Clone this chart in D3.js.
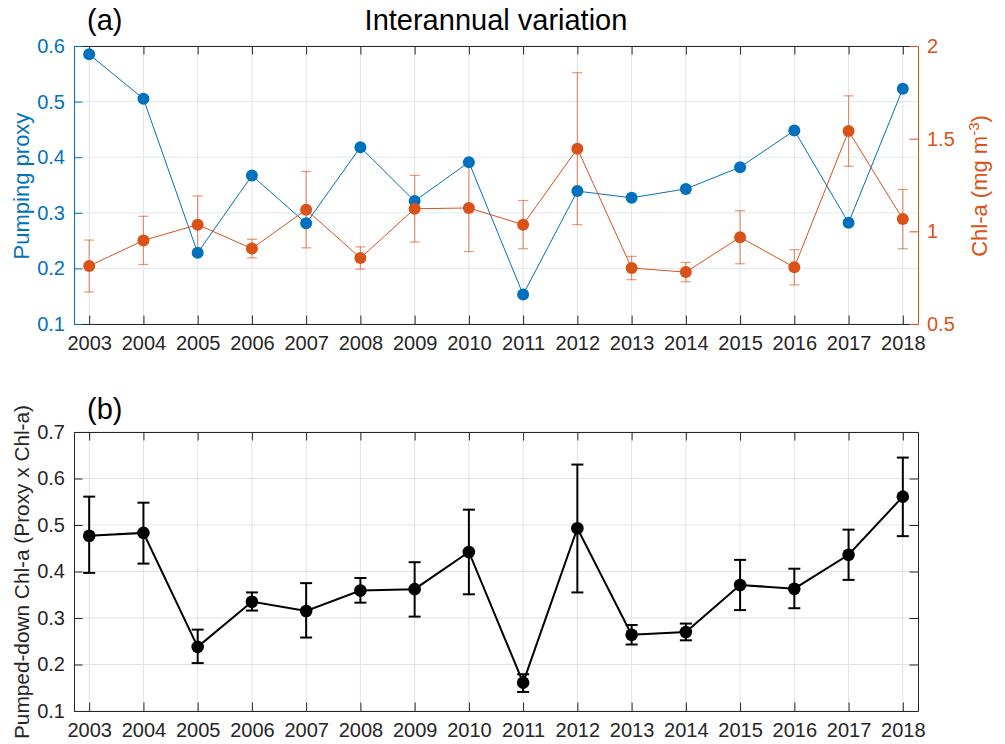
<!DOCTYPE html>
<html>
<head>
<meta charset="utf-8">
<script src="https://cdn.jsdelivr.net/npm/d3@7"></script>
<style>
  body { margin: 0; background: #fff; }
  svg { font-family: "Liberation Sans", Arial, Helvetica, sans-serif; }
</style>
</head>
<body>
<div id="vizDiv"></div>
<script>
var width = 1005
var height = 744

// data
var years = [2003, 2004, 2005, 2006, 2007, 2008, 2009, 2010, 2011, 2012, 2013, 2014, 2015, 2016, 2017, 2018]
var proxy = [0.585, 0.505, 0.228, 0.367, 0.281, 0.418, 0.321, 0.391, 0.153, 0.339, 0.327, 0.343, 0.382, 0.448, 0.282, 0.523]
var chl = [0.813, 0.951, 1.036, 0.907, 1.117, 0.856, 1.122, 1.126, 1.036, 1.446, 0.802, 0.780, 0.968, 0.806, 1.541, 1.066]
var chlErr = [0.14, 0.13, 0.155, 0.05, 0.206, 0.06, 0.18, 0.235, 0.13, 0.41, 0.063, 0.052, 0.143, 0.095, 0.19, 0.16]
var pumped = [0.477, 0.483, 0.238, 0.335, 0.315, 0.359, 0.362, 0.442, 0.161, 0.493, 0.264, 0.270, 0.371, 0.363, 0.436, 0.561]
var pumpedLo = [0.397, 0.417, 0.203, 0.316, 0.258, 0.333, 0.303, 0.351, 0.141, 0.355, 0.243, 0.252, 0.317, 0.321, 0.382, 0.476]
var pumpedHi = [0.561, 0.548, 0.275, 0.355, 0.375, 0.386, 0.420, 0.533, 0.179, 0.630, 0.285, 0.288, 0.425, 0.406, 0.490, 0.645]

var leftTicks = [0.1, 0.2, 0.3, 0.4, 0.5, 0.6]
var rightTicks = [0.5, 1, 1.5, 2]
var bottomTicks = [0.1, 0.2, 0.3, 0.4, 0.5, 0.6, 0.7]

var blue = "#0072BD"
var orange = "#D95319"
var dark = "#262626"
var tickFont = "20px"
var labelFont = "22px"
var titleFont = "29px"
var tickLen = 8.5

var svg = d3.select("#vizDiv")
    .append("svg")
    .attr("width", width)
    .attr("height", height)

var x = d3.scaleLinear().domain([2002.72, 2018.28]).range([74, 918])

// panel a
var topA = 46, botA = 324
var yL = d3.scaleLinear().domain([0.1, 0.6]).range([botA, topA])
var yR = d3.scaleLinear().domain([0.5, 2]).range([botA, topA])

// panel b
var topB = 432, botB = 711
var yB = d3.scaleLinear().domain([0.1, 0.7]).range([botB, topB])

function drawGrid(yScale, ticks, top, bot, hColor) {
    svg.append("g").selectAll("line.v")
        .data(years).enter().append("line")
        .attr("x1", d => x(d)).attr("x2", d => x(d))
        .attr("y1", top).attr("y2", bot)
        .attr("stroke", "#e3e3e3").attr("stroke-width", 1)
    svg.append("g").selectAll("line.h")
        .data(ticks).enter().append("line")
        .attr("x1", 74).attr("x2", 918)
        .attr("y1", d => yScale(d)).attr("y2", d => yScale(d))
        .attr("stroke", hColor).attr("stroke-width", 1)
}

function styleAxis(g, color, labelColor) {
    g.selectAll(".domain").attr("stroke", color).attr("stroke-width", 1)
    g.selectAll(".tick line").attr("stroke", color).attr("stroke-width", 1)
    g.selectAll(".tick text")
        .attr("fill", labelColor)
        .style("font-size", tickFont)
        .style("font-family", "'Liberation Sans', Arial, sans-serif")
}

function drawXAxes(top, bot) {
    var gb = svg.append("g").attr("transform", "translate(0," + bot + ")")
        .call(d3.axisBottom(x).tickValues(years).tickFormat(d3.format("d"))
            .tickSizeInner(-tickLen).tickSizeOuter(0).tickPadding(8))
    styleAxis(gb, dark, dark)
    gb.selectAll(".tick text").attr("y", 26).attr("dy", 0)
    var gt = svg.append("g").attr("transform", "translate(0," + top + ")")
        .call(d3.axisTop(x).tickValues(years).tickFormat("")
            .tickSizeInner(-tickLen).tickSizeOuter(0))
    styleAxis(gt, dark, dark)
}

// ---------- panel (a) ----------
drawGrid(yL, leftTicks, topA, botA, "#e0eaf3")
drawXAxes(topA, botA)

var gl = svg.append("g").attr("transform", "translate(74,0)")
    .call(d3.axisLeft(yL).tickValues(leftTicks).tickFormat(d3.format(".1f"))
        .tickSizeInner(-tickLen).tickSizeOuter(0).tickPadding(9))
styleAxis(gl, blue, blue)

var gr = svg.append("g").attr("transform", "translate(918,0)")
    .call(d3.axisRight(yR).tickValues(rightTicks).tickFormat(d => String(d))
        .tickSizeInner(-tickLen).tickSizeOuter(0).tickPadding(9))
styleAxis(gr, orange, orange)

// chl error bars (drawn faint, underneath)
var eb = svg.append("g").attr("stroke", orange).attr("stroke-opacity", 0.6).attr("stroke-width", 1.2)
years.forEach(function (yr, i) {
    var cx = x(yr)
    var y1 = yR(chl[i] + chlErr[i]), y2 = yR(chl[i] - chlErr[i])
    eb.append("line").attr("x1", cx).attr("x2", cx).attr("y1", y1).attr("y2", y2)
    eb.append("line").attr("x1", cx - 5).attr("x2", cx + 5).attr("y1", y1).attr("y2", y1)
    eb.append("line").attr("x1", cx - 5).attr("x2", cx + 5).attr("y1", y2).attr("y2", y2)
})

var lineProxy = d3.line().x((d, i) => x(years[i])).y(d => yL(d))
svg.append("path").attr("d", lineProxy(proxy))
    .attr("fill", "none").attr("stroke", blue).attr("stroke-width", 1)
svg.append("g").selectAll("circle")
    .data(proxy).enter().append("circle")
    .attr("cx", (d, i) => x(years[i])).attr("cy", d => yL(d))
    .attr("r", 6).attr("fill", blue)

var lineChl = d3.line().x((d, i) => x(years[i])).y(d => yR(d))
svg.append("path").attr("d", lineChl(chl))
    .attr("fill", "none").attr("stroke", orange).attr("stroke-width", 1)
svg.append("g").selectAll("circle")
    .data(chl).enter().append("circle")
    .attr("cx", (d, i) => x(years[i])).attr("cy", d => yR(d))
    .attr("r", 6).attr("fill", orange)

svg.append("text")
    .attr("transform", "translate(29,186) rotate(-90)")
    .attr("text-anchor", "middle")
    .attr("fill", blue)
    .style("font-size", labelFont)
    .text("Pumping proxy")

var rl = svg.append("text")
    .attr("transform", "translate(987,186) rotate(-90)")
    .attr("text-anchor", "middle")
    .attr("fill", orange)
    .style("font-size", labelFont)
rl.append("tspan").text("Chl-a (mg m")
rl.append("tspan").attr("dy", -8).style("font-size", "15px").text("-3")
rl.append("tspan").attr("dy", 8).text(")")

svg.append("text")
    .attr("x", 496).attr("y", 30)
    .attr("text-anchor", "middle")
    .attr("fill", "#000")
    .style("font-size", titleFont)
    .text("Interannual variation")

svg.append("text")
    .attr("x", 87).attr("y", 30)
    .attr("fill", "#000")
    .style("font-size", titleFont)
    .text("(a)")

// ---------- panel (b) ----------
drawGrid(yB, bottomTicks, topB, botB, "#e3e3e3")
drawXAxes(topB, botB)

var gbl = svg.append("g").attr("transform", "translate(74,0)")
    .call(d3.axisLeft(yB).tickValues(bottomTicks).tickFormat(d3.format(".1f"))
        .tickSizeInner(-tickLen).tickSizeOuter(0).tickPadding(9))
styleAxis(gbl, dark, dark)

var gbr = svg.append("g").attr("transform", "translate(918,0)")
    .call(d3.axisRight(yB).tickValues(bottomTicks).tickFormat("")
        .tickSizeInner(-tickLen).tickSizeOuter(0))
styleAxis(gbr, dark, dark)

var ebb = svg.append("g").attr("stroke", "#000").attr("stroke-width", 2)
years.forEach(function (yr, i) {
    var cx = x(yr)
    var y1 = yB(pumpedHi[i]), y2 = yB(pumpedLo[i])
    ebb.append("line").attr("x1", cx).attr("x2", cx).attr("y1", y1).attr("y2", y2)
    ebb.append("line").attr("x1", cx - 6).attr("x2", cx + 6).attr("y1", y1).attr("y2", y1)
    ebb.append("line").attr("x1", cx - 6).attr("x2", cx + 6).attr("y1", y2).attr("y2", y2)
})

var linePumped = d3.line().x((d, i) => x(years[i])).y(d => yB(d))
svg.append("path").attr("d", linePumped(pumped))
    .attr("fill", "none").attr("stroke", "#000").attr("stroke-width", 2)
svg.append("g").selectAll("circle")
    .data(pumped).enter().append("circle")
    .attr("cx", (d, i) => x(years[i])).attr("cy", d => yB(d))
    .attr("r", 6.3).attr("fill", "#000")

svg.append("text")
    .attr("transform", "translate(29,572) rotate(-90)")
    .attr("text-anchor", "middle")
    .attr("fill", dark)
    .style("font-size", "20.8px")
    .text("Pumped-down Chl-a (Proxy x Chl-a)")

svg.append("text")
    .attr("x", 87).attr("y", 419)
    .attr("fill", "#000")
    .style("font-size", titleFont)
    .text("(b)")
</script>
</body>
</html>
